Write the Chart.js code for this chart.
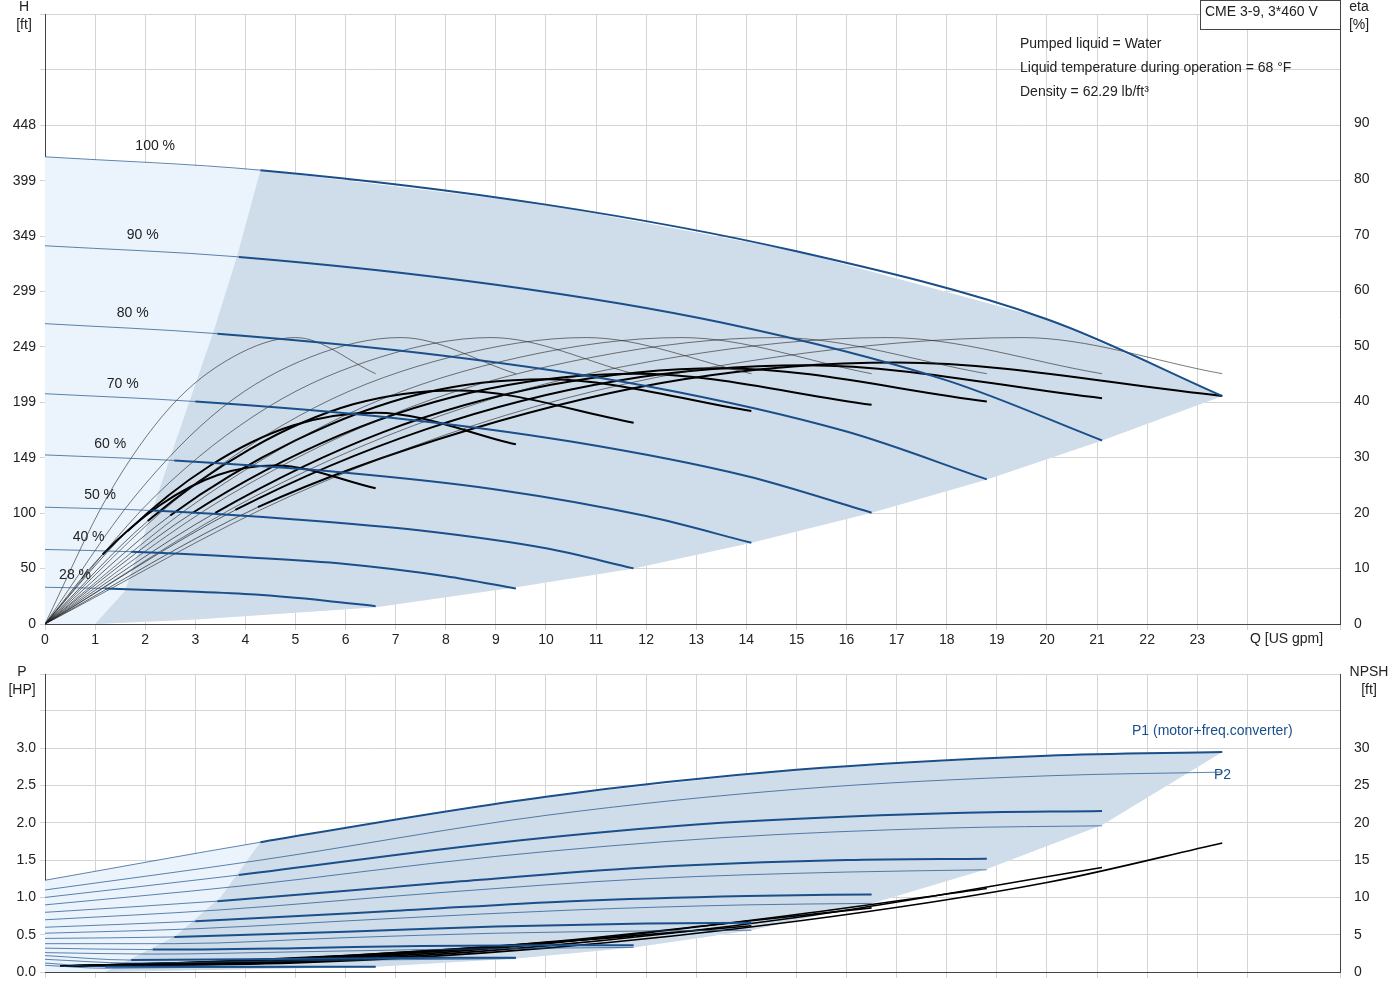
<!DOCTYPE html>
<html><head><meta charset="utf-8">
<script src="https://cdn.jsdelivr.net/npm/chart.js@4.4.1/dist/chart.umd.min.js"></script>
<style>
body{margin:0;background:#fff;font-family:"Liberation Sans",Arial,sans-serif}
#wrap{position:relative;width:1400px;height:1000px}
#c1{position:absolute;left:0;top:0}
#c2{position:absolute;left:0;top:660px}
</style></head><body>
<div id="wrap"><canvas id="c1" width="1400" height="660"></canvas><canvas id="c2" width="1400" height="340"></canvas></div>
<script>
// speeds, labels and boundaries
const speeds = ['100 %', '90 %', '80 %', '70 %', '60 %', '50 %', '40 %', '28 %'];
const thickFrom = [4.3, 3.87, 3.44, 3.0, 2.58, 2.15, 1.72, 1.2];
const labelPos = [[2.2, 430], [1.95, 350], [1.75, 279], [1.55, 216], [1.3, 162], [1.1, 116], [0.87, 78], [0.6, 44]];

// head curves [Q, H ft]
const head = [
    [[0,420],[4.3,408],[10,377],[15,335],[20,274],[23.5,205]],
    [[0,340],[3.87,330],[9,305],[13.5,271],[18,219],[21.1,165]],
    [[0,270],[3.44,261],[8,241],[12,214],[16,173],[18.8,130]],
    [[0,207],[3.0,200],[7,185],[10.5,164],[14,133],[16.5,100]],
    [[0,152],[2.58,147],[6,136],[9,121],[12,97],[14.1,73]],
    [[0,105],[2.15,102],[5,94],[7.5,84],[10,68],[11.75,50]],
    [[0,67],[1.72,65],[4,60],[6,54],[8,43],[9.4,32]],
    [[0,33],[1.2,32],[2.8,29.5],[4.2,26.5],[5.6,21],[6.6,16]]
];
// total efficiency (thick) [Q, eta %]
const etaTotal = [
    [[0,0],[4.25,21],[8.5,35],[12.75,44],[17,47],[23.5,41]],
    [[0,0],[3.8,20.5],[7.6,35],[11.4,43.7],[15.2,46.5],[21.1,40.6]],
    [[0,0],[3.4,20],[6.75,34.5],[10.1,43],[13.5,46],[18.8,40]],
    [[0,0],[2.95,20],[5.9,34],[8.85,42.3],[11.8,45],[16.5,39.4]],
    [[0,0],[2.5,19.5],[5,33],[7.5,41.4],[10,44],[14.1,38.3]],
    [[0,0],[2.05,18.5],[4.1,31.5],[6.15,39.5],[8.2,42],[11.75,36.2]],
    [[0,0],[1.65,16.7],[3.3,28.5],[4.95,35.7],[6.6,38],[9.4,32.3]],
    [[0,0],[1.15,12.5],[2.3,21.4],[3.45,26.8],[4.6,28.5],[6.6,24.4]]
];
// pump efficiency (thin) [Q, eta %]
const etaPump = [
    [[0,0],[4.9,23],[9.75,39],[14.6,48],[19.5,51.5],[23.5,45]],
    [[0,0],[4.2,23],[8.4,39],[12.6,48],[16.8,51.5],[21.1,45]],
    [[0,0],[3.65,23],[7.3,39],[10.95,48],[14.6,51.5],[18.8,45]],
    [[0,0],[3.2,23],[6.35,39],[9.5,48],[12.7,51.5],[16.5,45]],
    [[0,0],[2.7,23],[5.4,39],[8.1,48],[10.8,51.5],[14.1,45]],
    [[0,0],[2.2,23],[4.45,39],[6.7,48],[8.9,51.5],[11.75,45]],
    [[0,0],[1.8,23],[3.55,39],[5.3,48],[7.1,51.5],[9.4,45]],
    [[0,0],[1.25,23],[2.5,39],[3.75,48],[5.0,51.5],[6.6,45]]
];
// shaded area edges, top chart
const headLeftEdge = [[1.0,0],[1.6,30],[2.5,150],[3.35,261],[3.83,330],[4.3,408]];
const headLowEdge = [[23.5,205],[21.1,165],[18.8,130],[16.5,100],[14.1,73],[11.75,50],[9.4,33],[6.6,15],[3,4],[1.0,0]];

// power P1 / P2 [Q, HP]
const p1 = [
    [[0,1.23],[4.3,1.74],[10,2.35],[15,2.71],[20,2.9],[23.5,2.95]],
    [[0,1.0],[3.87,1.3],[9,1.73],[13.5,2.0],[18,2.13],[21.1,2.16]],
    [[0,0.8],[3.44,0.95],[8,1.2],[12,1.4],[16,1.5],[18.8,1.52]],
    [[0,0.6],[3.0,0.68],[7,0.82],[10.5,0.95],[14,1.02],[16.5,1.04]],
    [[0,0.45],[2.58,0.47],[6,0.54],[9,0.61],[12,0.65],[14.1,0.66]],
    [[0,0.32],[2.15,0.3],[5,0.32],[7.5,0.35],[10,0.36],[11.75,0.36]],
    [[0,0.22],[1.72,0.16],[4,0.17],[6,0.18],[8,0.19],[9.4,0.19]],
    [[0,0.12],[1.2,0.07],[2.8,0.07],[4.2,0.07],[5.6,0.07],[6.6,0.07]]
];
const p2 = [
    [[0,1.1],[4.3,1.5],[10,2.1],[15,2.45],[20,2.63],[23.5,2.68]],
    [[0,0.9],[3.87,1.15],[9,1.55],[13.5,1.8],[18,1.93],[21.1,1.96]],
    [[0,0.7],[3.44,0.83],[8,1.07],[12,1.25],[16,1.34],[18.8,1.37]],
    [[0,0.52],[3,0.58],[7,0.72],[10.5,0.83],[14,0.9],[16.5,0.92]],
    [[0,0.38],[2.58,0.38],[6,0.46],[9,0.52],[12,0.55],[14.1,0.56]],
    [[0,0.26],[2.15,0.24],[5,0.27],[7.5,0.3],[10,0.32],[11.75,0.33]],
    [[0,0.17],[1.72,0.12],[4,0.14],[6,0.16],[8,0.17],[9.4,0.18]],
    [[0,0.09],[1.2,0.05],[2.8,0.06],[4.2,0.06],[5.6,0.07],[6.6,0.07]]
];
// NPSH [Q, ft]
const npsh = [
    [[0.3,0.8],[5,1.2],[10,3.2],[15,6.8],[20,12],[23.5,17.3]],
    [[0.3,0.8],[5,1.3],[10,3.5],[15,7.3],[21.1,14]],
    [[0.3,0.8],[5,1.4],[10,3.8],[15,7.7],[18.8,11.2]],
    [[0.3,0.8],[5,1.5],[10,4],[14,6.8],[16.5,8.6]],
    [[0.3,0.8],[5,1.6],[10,3.9],[14.1,6.2]],
    [[0.3,0.8],[4,1.5],[8,3],[11.75,4.8]],
    [[0.3,0.8],[3,1.3],[6,2.2],[9.4,3.6]],
    [[0.3,0.8],[2,1.1],[4,1.5],[6.6,2.3]]
];
const powerLeftEdge = [[1.2,0],[2.6,0.48],[3.5,1.0],[4.3,1.74]];
const powerRightEdge = [[23.5,2.95],[21.1,1.97],[18.8,1.38],[16.5,0.92],[14.1,0.56],[11.75,0.33],[9.4,0.18],[6.6,0.07],[1.2,0]];

const infoLines = ['Pumped liquid = Water', 'Liquid temperature during operation = 68 °F', 'Density = 62.29 lb/ft³'];

const BLUE = '#1a4f8a';
const LIGHT = '#ebf4fc';
const DARK = '#cfdce9';
const FONT = '"Liberation Sans", Arial, sans-serif';
Chart.defaults.font.family = FONT;
Chart.defaults.font.size = 14;
Chart.defaults.color = '#222';

function line(pts, color, thin, thick, thinUntil, axis) {
    return {
        data: pts.map(p => ({x: p[0], y: p[1]})),
        yAxisID: axis || 'y',
        showLine: true, pointRadius: 0, borderColor: color, borderWidth: thick,
        cubicInterpolationMode: 'monotone', fill: false,
        segment: {borderWidth: c => c.p0.parsed.x < thinUntil - 0.01 ? thin : thick}
    };
}

const polyPlugin = {
    id: 'polys',
    beforeDatasetsDraw(chart, args, opts) {
        const c = chart.ctx, a = chart.chartArea, xs = chart.scales.x, ys = chart.scales.y;
        c.save();
        c.beginPath(); c.rect(a.left, a.top, a.right - a.left, a.bottom - a.top); c.clip();
        opts.list.forEach(pg => {
            c.beginPath();
            pg.pts.forEach((p, i) => {
                const px = xs.getPixelForValue(p[0]), py = ys.getPixelForValue(p[1]);
                i ? c.lineTo(px, py) : c.moveTo(px, py);
            });
            c.closePath(); c.fillStyle = pg.color; c.fill();
        });
        c.restore();
    },
    afterDraw(chart, args, opts) {
        const c = chart.ctx, xs = chart.scales.x, ys = chart.scales.y;
        c.save();
        c.font = '14px ' + FONT; c.textBaseline = 'middle';
        (opts.labels || []).forEach(l => {
            c.fillStyle = l.color || '#222'; c.textAlign = l.align || 'left';
            const px = l.q !== undefined ? xs.getPixelForValue(l.q) : l.px;
            const py = l.v !== undefined ? ys.getPixelForValue(l.v) : l.py;
            c.fillText(l.text, px, py);
        });
        c.restore();
    }
};

function axes(yMax, yStep, yShow, yDec, rMax, rStep, rShow, showX) {
    const grid = {color: '#d4d4d4', drawTicks: false};
    return {
        x: {type: 'linear', min: 0, max: 25.85, grid: {color: '#d4d4d4', tickLength: 6},
            border: {color: '#444'},
            ticks: {display: showX, stepSize: 1, color: '#222', padding: 2, callback: v => v <= 23 ? v : ''},
            afterFit: s => { s.height = showX ? 36 : 0; }},
        y: {min: 0, max: yMax, grid: {color: '#d4d4d4', tickLength: 5}, border: {color: '#444'},
            ticks: {stepSize: yStep, padding: 4, callback: v => v <= yShow + 1e-9 ? v.toFixed(yDec) : ''},
            afterFit: s => { s.width = 45; }},
        yR: {position: 'right', min: 0, max: rMax, grid: {display: false}, border: {color: '#444'},
            ticks: {stepSize: rStep, padding: 6, callback: v => v <= rShow + 1e-9 ? v : ''},
            afterFit: s => { s.width = 60; }}
    };
}

// top chart
const topSets = [];
head.forEach((h, i) => topSets.push(line(h, BLUE, 0.7, 2, thickFrom[i])));
etaPump.forEach(e => topSets.push(line(e, '#222', 0.6, 0.6, 0, 'yR')));
etaTotal.forEach((e, i) => topSets.push(line(e, '#000', 0.6, 2, thickFrom[i] * 0.35, 'yR')));

const headLight = head[0].concat(headLowEdge, [[0, 0]]);
const headDark = headLeftEdge.concat(head[0].filter(p => p[0] > 4.3), headLowEdge);

const topLabels = speeds.map((s, i) => ({text: s, q: labelPos[i][0], v: labelPos[i][1], align: 'center'}));
topLabels.push({text: 'Q [US gpm]', px: 1250, py: 639});
topLabels.push({text: 'H', px: 24, py: 7, align: 'center'}, {text: '[ft]', px: 24, py: 25, align: 'center'});
topLabels.push({text: 'eta', px: 1359, py: 7, align: 'center'}, {text: '[%]', px: 1359, py: 25, align: 'center'});
topLabels.push({text: 'CME 3-9, 3*460 V', px: 1205, py: 12});
infoLines.forEach((t, i) => topLabels.push({text: t, px: 1020, py: 44 + i * 24}));

new Chart(document.getElementById('c1'), {
    type: 'scatter',
    data: {datasets: topSets},
    options: {
        responsive: false, animation: false,
        layout: {padding: {top: 0, bottom: 0, left: 0, right: 0}},
        plugins: {legend: {display: false}, tooltip: {enabled: false},
            polys: {list: [{pts: headLight, color: LIGHT}, {pts: headDark, color: DARK}], labels: topLabels}},
        scales: axes(548, 50, 450, 0, 109.6, 10, 90, true)
    },
    plugins: [polyPlugin, {
        id: 'box', afterDraw(ch) {
            const c = ch.ctx; c.save(); c.strokeStyle = '#444'; c.lineWidth = 1;
            c.fillStyle = '#fff';
            c.fillRect(1200, 0, 140, 30); c.strokeRect(1200.5, 0.5, 140, 29);
            c.fillStyle = '#222'; c.font = '14px ' + FONT; c.textBaseline = 'middle';
            c.fillText('CME 3-9, 3*460 V', 1205, 12); c.restore();
        }
    }]
});

// bottom chart
const botSets = [];
p1.forEach((p, i) => botSets.push(line(p, BLUE, 0.7, 2, thickFrom[i])));
p2.forEach(p => botSets.push(line(p, BLUE, 0.7, 0.7, 0)));
npsh.forEach(n => botSets.push(line(n, '#000', 1.6, 1.6, 0, 'yR')));

const powerLight = p1[0].concat(powerRightEdge, [[0, 0]]);
const powerDark = powerLeftEdge.concat(p1[0].filter(p => p[0] > 4.3), powerRightEdge);
const botLabels = [
    {text: 'P', px: 22, py: 12, align: 'center'}, {text: '[HP]', px: 22, py: 30, align: 'center'},
    {text: 'NPSH', px: 1369, py: 12, align: 'center'}, {text: '[ft]', px: 1369, py: 30, align: 'center'},
    {text: 'P1 (motor+freq.converter)', px: 1132, py: 71, color: BLUE},
    {text: 'P2', px: 1214, py: 115, color: BLUE}
];
new Chart(document.getElementById('c2'), {
    type: 'scatter',
    data: {datasets: botSets},
    options: {
        responsive: false, animation: false,
        layout: {padding: {top: 5, bottom: 28}},
        plugins: {legend: {display: false}, tooltip: {enabled: false},
            polys: {list: [{pts: powerLight, color: LIGHT}, {pts: powerDark, color: DARK}], labels: botLabels}},
        scales: axes(3.99, 0.5, 3.0, 1, 39.9, 5, 30, false)
    },
    plugins: [polyPlugin]
});
</script>
</body></html>
